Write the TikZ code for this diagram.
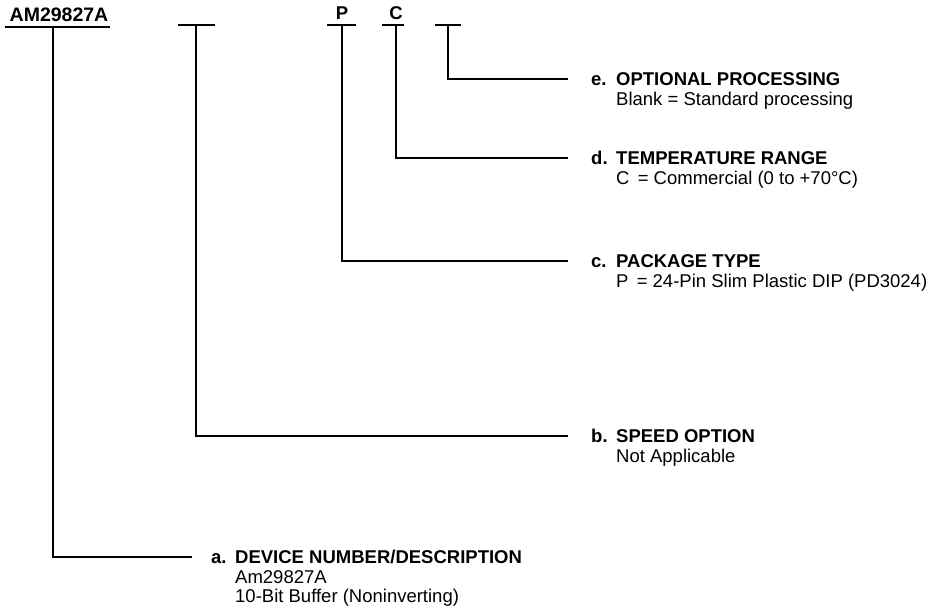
\documentclass[tikz,border=0pt]{standalone}
\usepackage{fontspec}
\setmainfont{Liberation Sans}
\begin{document}
\begin{tikzpicture}[x=1pt,y=-1pt,
  hd/.style={font=\fontsize{18.5}{20}\selectfont\bfseries,anchor=base west,inner sep=0},
  sb/.style={font=\fontsize{18.5}{20}\selectfont,anchor=base west,inner sep=0},
  conn/.style={line width=1.8pt},
  bar/.style={line width=1.8pt}]
\useasboundingbox (0,0) rectangle (946,612);
% part number and code letters
\node[hd,anchor=base,font=\fontsize{19.5}{20}\selectfont\bfseries] (pn) at (59,22) {AM29827A};
\node[hd,anchor=base] (pl) at (342,19.5) {P};
\node[hd,anchor=base] (cl) at (396,19.5) {C};
% bars
\coordinate (ta) at (53,27);
\coordinate (tb) at (196,25);
\coordinate (tc) at (342,25);
\coordinate (td) at (396,25);
\coordinate (te) at (448,25);
\draw[bar] (5,27) -- (110,27);
\draw[bar] (178,25) -- (215,25);
\draw[bar] (327,25) -- (356,25);
\draw[bar] (382,25) -- (404,25);
\draw[bar] (435,25) -- (461,25);
% e
\node[hd] (le) at (591,85.6) {e.};
\node[hd] (he) at (616,85.6) {OPTIONAL PROCESSING};
\node[sb] (se) at (616,105.6) {Blank = Standard processing};
\coordinate (ee) at (568,79);
% d
\node[hd] (ld) at (591,164.6) {d.};
\node[hd] (hd) at (616,164.6) {TEMPERATURE RANGE};
\node[sb] (sd) at (616,184.6) {C \,= Commercial (0 to +70°C)};
\coordinate (ed) at (568,158);
% c
\node[hd] (lc) at (591,267.6) {c.};
\node[hd] (hc) at (616,267.6) {PACKAGE TYPE};
\node[sb] (sc) at (616,287.6) {P \,= 24-Pin Slim Plastic DIP (PD3024)};
\coordinate (ec) at (568,261);
% b
\node[hd] (lb) at (591,442.6) {b.};
\node[hd] (hb) at (616,442.6) {SPEED OPTION};
\node[sb] (sbb) at (616,462.6) {Not Applicable};
\coordinate (eb) at (568,436);
% a
\node[hd] (la) at (211,563.6) {a.};
\node[hd] (ha) at (235,563.6) {DEVICE NUMBER/DESCRIPTION};
\node[sb] (sa1) at (235,583.6) {Am29827A};
\node[sb] (sa2) at (235,602.6) {10-Bit Buffer (Noninverting)};
\coordinate (ea) at (192,557);
% connectors
\draw[conn] (te) |- (ee);
\draw[conn] (td) |- (ed);
\draw[conn] (tc) |- (ec);
\draw[conn] (tb) |- (eb);
\draw[conn] (ta) |- (ea);
\end{tikzpicture}
\end{document}
